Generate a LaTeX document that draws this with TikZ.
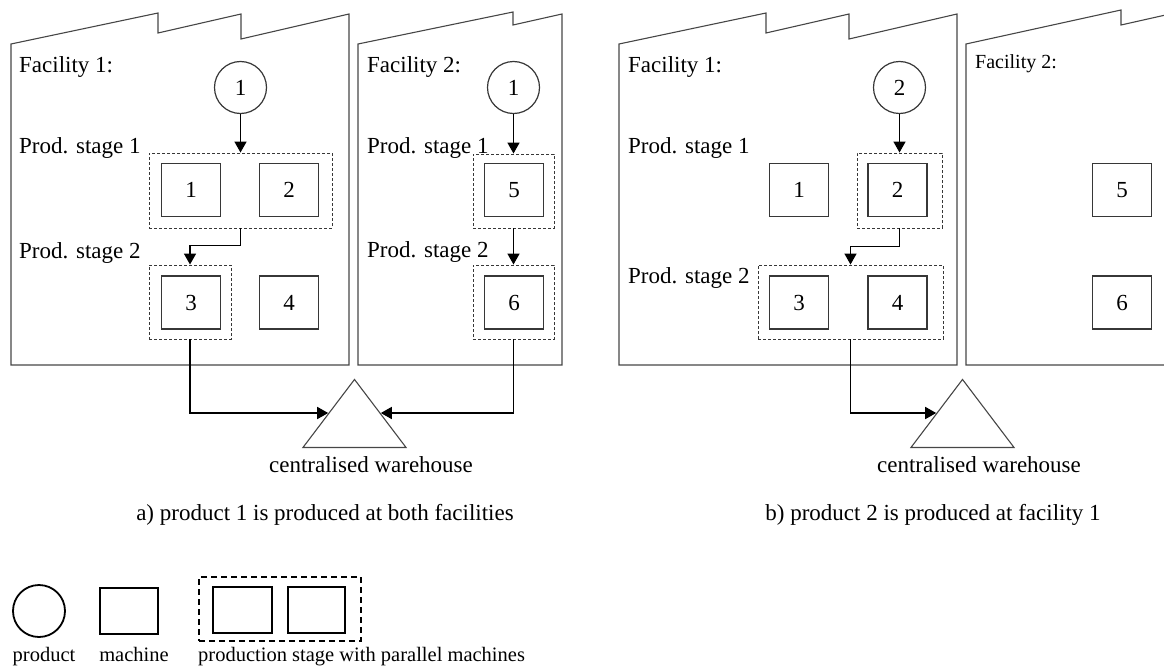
\documentclass[tikz,border=0pt]{standalone}
\usepackage{fontspec}
\setmainfont{Liberation Serif}
\usetikzlibrary{arrows.meta}
\usetikzlibrary{shapes.geometric}
\definecolor{wallgray}{RGB}{70, 70, 70}
\definecolor{boxgray}{RGB}{55, 55, 55}
\newcommand{\figfont}{\fontsize{23pt}{27pt}\selectfont}
\newcommand{\keyfont}{\fontsize{20.5pt}{24pt}\selectfont}

\begin{document}
\begin{tikzpicture}[x = 1pt, y = -1pt, font = \figfont,
	wall/.style = {draw = wallgray, line width = 1.1pt},
	machine/.style = {draw = boxgray, line width = 1.2pt, minimum width = 59pt, minimum height = 53pt, inner sep = 0pt},
	product/.style = {draw = boxgray, line width = 1.2pt, circle, minimum size = 52pt, inner sep = 0pt},
	stagebox/.style = {draw = boxgray, line width = 0.9pt, dash pattern = on 3pt off 2pt, inner sep = 0pt},
	warehouse/.style = {draw = wallgray, line width = 1.1pt, isosceles triangle, isosceles triangle stretches, shape border rotate = 90, minimum width = 103pt, minimum height = 68pt, inner sep = 0pt, anchor = lower side},
	flow/.style = {draw = black, line width = 1.6pt, -{Triangle[length = 11pt, width = 12pt]}},
	tag/.style = {inner sep = 0pt, anchor = base west},
	keyline/.style = {draw = black, line width = 1.8pt, inner sep = 0pt}]
			\useasboundingbox (0,0) rectangle (1164,669);
			\clip (0,0) rectangle (1164,669);
			\draw [wall] (11,365) -- (11,44) -- (158,13) -- (158,33) -- (241,14) -- (241,39) -- (349,14) -- (349,365) -- cycle;
			\draw [wall] (358,365) -- (358,44) -- (513,12) -- (513,25) -- (562,14) -- (562,365) -- cycle;
			\draw [wall] (619,365) -- (619,44) -- (766,13) -- (766,33) -- (849,14) -- (849,39) -- (957,14) -- (957,365) -- cycle;
			\draw [wall] (966,365) -- (966,44) -- (1121,10) -- (1121,25) -- (1170,14) -- (1170,365) -- cycle;
			\node (f1a) at (19,72) [tag] {Facility 1:};
			\node (f2a) at (367,72) [tag] {Facility 2:};
			\node (p1a) at (19,153) [tag] {Prod. stage 1};
			\node (p2a) at (19,258) [tag] {Prod. stage 2};
			\node (q1a) at (367,153) [tag] {Prod. stage 1};
			\node (q2a) at (367,257) [tag] {Prod. stage 2};
			\node (pa1) at (240.5,87.5) [product] {1};
			\node (pa2) at (513.5,87.5) [product] {1};
			\node (m1a) at (191,190) [machine] {1};
			\node (m2a) at (289,190) [machine] {2};
			\node (m3a) at (191,302.5) [machine] {3};
			\node (m4a) at (289,302.5) [machine] {4};
			\node (m5a) at (514,190) [machine] {5};
			\node (m6a) at (514,302.5) [machine] {6};
			\node (s1a) at (240.5,190.5) [stagebox, minimum width = 183pt, minimum height = 75pt] {};
			\node (s2a) at (190,302) [stagebox, minimum width = 82pt, minimum height = 74pt] {};
			\node (s5a) at (513.5,191) [stagebox, minimum width = 81pt, minimum height = 74pt] {};
			\node (s6a) at (513.5,302) [stagebox, minimum width = 81pt, minimum height = 74pt] {};
			\node (wa) at (354.5,448) [warehouse] {};
			\node (wla) at (371,472) [anchor = base, inner sep = 0pt] {centralised warehouse};
			\draw [flow] (pa1) -- (s1a);
			\draw [flow] (s1a.south) -- ++(0,17) -| (s2a.north);
			\draw [flow] (pa2) -- (s5a);
			\draw [flow] (s5a) -- (s6a);
			\draw [flow] (s2a) |- (wa.left side);
			\draw [flow] (s6a) |- (wa.right side);
			\node (capa) at (325,520) [anchor = base, inner sep = 0pt] {a) product 1 is produced at both facilities};
			\node (f1b) at (628,72) [tag] {Facility 1:};
			\node (f2b) at (975,69) [tag, font = \fontsize{20pt}{24pt}\selectfont] {Facility 2:};
			\node (p1b) at (628,153) [tag] {Prod. stage 1};
			\node (p2b) at (628,283) [tag] {Prod. stage 2};
			\node (pb2) at (899.5,87.5) [product] {2};
			\node (m1b) at (799,190) [machine] {1};
			\node (m2b) at (897.5,190) [machine] {2};
			\node (m3b) at (799,302.5) [machine] {3};
			\node (m4b) at (897.5,302.5) [machine] {4};
			\node (m5b) at (1122,190) [machine] {5};
			\node (m6b) at (1122,302.5) [machine] {6};
			\node (s1b) at (899.5,190.5) [stagebox, minimum width = 85pt, minimum height = 75pt] {};
			\node (s2b) at (850.5,302) [stagebox, minimum width = 185pt, minimum height = 74pt] {};
			\node (wb) at (962.5,448) [warehouse] {};
			\node (wlb) at (979,472) [anchor = base, inner sep = 0pt] {centralised warehouse};
			\draw [flow] (pb2) -- (s1b);
			\draw [flow] (s1b.south) -- ++(0,18) -| (s2b.north);
			\draw [flow] (s2b) |- (wb.left side);
			\node (capb) at (933,520) [anchor = base, inner sep = 0pt] {b) product 2 is produced at facility 1};
			\node (kp) at (39,611) [keyline, circle, minimum size = 52pt] {};
			\node (km) at (129,611) [keyline, minimum width = 58pt, minimum height = 46pt] {};
			\node (ks) at (280,609) [keyline, dash pattern = on 6pt off 4pt, minimum width = 162pt, minimum height = 64pt] {};
			\node (km1) at (242.5,610) [keyline, minimum width = 59pt, minimum height = 46pt] {};
			\node (km2) at (316.5,610) [keyline, minimum width = 57pt, minimum height = 46pt] {};
			\node (kpt) at (44,661) [anchor = base, inner sep = 0pt, font = \keyfont] {product};
			\node (kmt) at (134,661) [anchor = base, inner sep = 0pt, font = \keyfont] {machine};
			\node (kst) at (198,661) [tag, font = \keyfont] {production stage with parallel machines};
\end{tikzpicture}
\end{document}
